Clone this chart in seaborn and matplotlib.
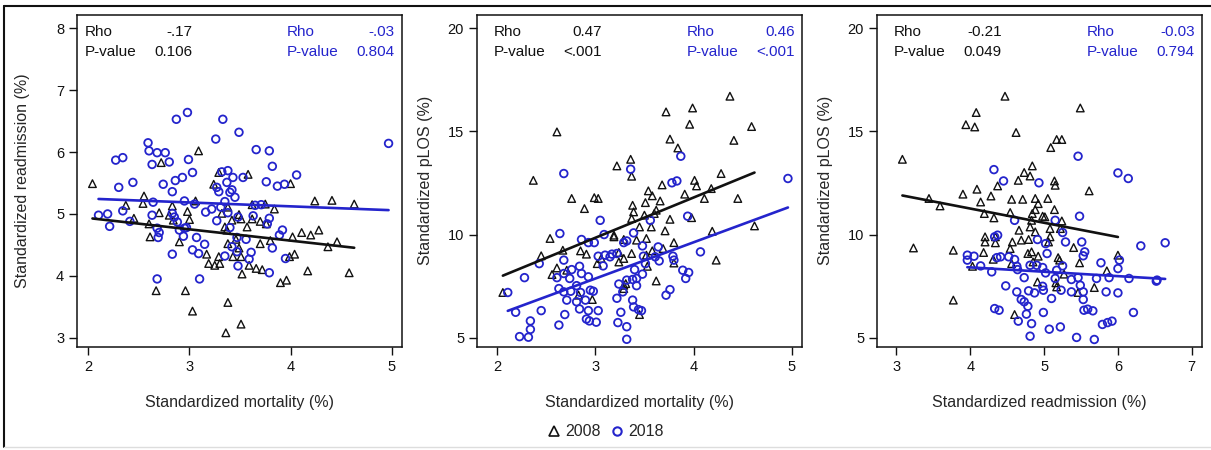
import numpy as np
import pandas as pd
import matplotlib
matplotlib.use("Agg")
import matplotlib.pyplot as plt
from matplotlib.lines import Line2D
import seaborn as sns

# ---------------- data ----------------
# Panel 1: standardized mortality (x) vs standardized readmission (y)
p1_2008 = [(2.04,5.49),(3.09,6.02),(2.72,5.83),(3.29,5.67),(3.58,5.64),(3.24,5.48),(4.00,5.49),
           (2.55,5.29),(2.54,5.17),(2.37,5.14),(2.83,5.13),(3.06,5.21),(3.38,5.11),(3.62,5.15),
           (3.75,5.16),(3.84,5.08),(4.24,5.21),(4.41,5.22),(4.63,5.16),(2.70,5.02),(2.98,5.04),
           (2.45,4.93),(2.60,4.84),(2.80,4.98),(2.84,4.90),(3.00,4.91),(3.32,5.01),(3.35,4.79),
           (3.49,4.99),(3.51,4.92),(3.62,4.92),(3.57,4.79),(3.70,4.88),(3.76,4.84),(2.61,4.63),
           (2.90,4.55),(3.38,4.52),(3.46,4.59),(3.49,4.45),(3.70,4.52),(3.80,4.57),(4.02,4.63),
           (4.11,4.70),(4.20,4.66),(4.28,4.74),(4.37,4.47),(4.46,4.55),(3.17,4.35),(3.29,4.31),
           (3.19,4.20),(3.25,4.17),(3.30,4.20),(3.43,4.31),(3.51,4.31),(3.59,4.17),(3.66,4.12),
           (3.72,4.10),(3.52,4.03),(3.99,4.31),(4.04,4.35),(4.17,4.08),(3.90,3.89),(3.96,3.93),
           (4.58,4.05),(2.67,3.76),(2.96,3.76),(3.03,3.43),(3.38,3.57),(3.51,3.22),(3.36,3.08),
           (3.37,4.74),(3.42,4.90)]
p1_2018 = [(2.98,6.64),(2.87,6.53),(3.33,6.53),(3.49,6.32),(3.26,6.21),(2.59,6.15),(2.60,6.02),
           (2.68,5.99),(2.76,5.99),(2.27,5.87),(2.34,5.91),(2.63,5.80),(2.80,5.84),(2.99,5.88),
           (3.66,6.04),(3.79,6.02),(3.82,5.77),(3.03,5.67),(2.93,5.59),(2.86,5.54),(2.74,5.48),
           (2.44,5.51),(2.30,5.43),(2.83,5.36),(3.32,5.68),(3.38,5.70),(3.43,5.59),(3.53,5.59),
           (3.37,5.51),(3.27,5.43),(3.29,5.36),(3.42,5.39),(3.40,5.35),(3.45,5.27),(3.76,5.52),
           (3.87,5.45),(3.94,5.48),(4.06,5.63),(4.97,6.14),(2.64,5.19),(2.95,5.21),(3.05,5.16),
           (3.35,5.20),(3.31,5.11),(3.22,5.08),(3.16,5.03),(3.65,5.14),(3.71,5.15),(2.34,5.05),
           (2.10,4.98),(2.19,5.00),(2.21,4.80),(2.41,4.88),(2.63,4.98),(2.68,4.77),(2.70,4.70),
           (2.69,4.62),(2.83,5.01),(2.85,4.95),(2.88,4.87),(2.90,4.74),(2.95,4.77),(2.97,4.78),
           (2.94,4.64),(3.07,4.62),(3.03,4.42),(3.09,4.36),(3.15,4.51),(3.27,4.89),(3.38,5.02),
           (3.48,4.95),(3.40,4.78),(3.47,4.62),(3.56,4.59),(3.63,4.97),(3.79,4.93),(3.77,4.84),
           (3.92,4.74),(3.89,4.66),(3.82,4.45),(3.42,4.47),(3.47,4.39),(3.35,4.32),(3.61,4.38),
           (3.59,4.27),(3.48,4.16),(3.79,4.05),(3.95,4.28),(2.83,4.35),(2.68,3.95),(3.10,3.95)]

# Panel 2: standardized mortality (x) vs standardized pLOS (y)
p2_2008 = [(4.37,16.71),(3.99,16.14),(3.72,15.95),(3.96,15.35),(4.59,15.24),(2.61,14.98),
           (3.76,14.63),(4.41,14.57),(3.84,14.20),(3.36,13.65),(3.22,13.33),(3.37,12.83),
           (4.28,12.96),(2.37,12.63),(3.68,12.41),(4.01,12.63),(4.03,12.36),(4.18,12.23),
           (3.54,12.12),(3.58,11.88),(3.91,11.96),(4.11,11.75),(4.45,11.75),(2.76,11.75),
           (2.99,11.79),(3.03,11.75),(3.66,11.63),(3.51,11.55),(2.89,11.26),(3.38,11.42),
           (3.39,11.10),(3.37,10.78),(3.50,10.94),(3.62,11.18),(3.60,11.02),(3.57,10.37),
           (3.76,10.74),(3.45,10.37),(3.98,10.82),(4.62,10.42),(4.19,10.16),(3.71,10.18),
           (2.54,9.81),(3.19,9.97),(3.19,9.89),(3.29,9.76),(3.42,9.73),(3.52,9.81),(3.80,9.61),
           (2.67,9.24),(2.85,9.21),(2.91,9.05),(2.45,8.97),(3.24,9.13),(3.37,9.08),(3.52,9.00),
           (3.58,9.21),(3.69,9.32),(3.02,8.59),(3.06,8.84),(3.24,8.67),(3.29,8.84),(3.53,8.46),
           (3.80,8.62),(4.23,8.76),(2.61,8.38),(2.56,8.06),(2.71,8.27),(3.62,7.75),(3.29,7.54),
           (3.29,7.38),(2.06,7.19),(2.83,7.06),(2.97,6.85),(3.45,6.12),(3.31,7.62)]
p2_2018 = [(3.87,13.80),(3.36,13.17),(2.68,12.96),(3.78,12.51),(3.83,12.60),(4.96,12.72),
           (3.05,10.69),(3.56,10.69),(3.94,10.89),(2.64,10.05),(3.09,10.00),(3.39,10.08),
           (2.86,9.76),(2.93,9.61),(2.99,9.61),(3.29,9.61),(3.32,9.69),(3.48,9.45),(3.64,9.40),
           (4.07,9.16),(2.43,8.59),(2.68,8.76),(3.03,8.95),(3.10,9.00),(3.15,8.92),(3.08,8.48),
           (3.22,9.08),(3.17,9.05),(3.49,8.95),(3.51,8.59),(3.61,8.92),(3.65,8.72),(3.79,8.95),
           (3.80,8.76),(2.61,7.91),(2.68,8.11),(2.74,7.87),(2.76,8.30),(2.84,8.46),(2.86,8.11),
           (2.93,7.95),(2.28,7.91),(3.40,8.30),(3.38,7.82),(3.42,7.87),(3.48,8.08),(3.32,7.79),
           (3.24,7.60),(3.42,7.52),(3.89,8.27),(3.95,8.16),(3.92,7.87),(2.11,7.19),(2.63,7.38),
           (2.68,7.22),(2.75,7.25),(2.81,7.52),(2.85,7.19),(2.95,7.30),(2.98,7.25),(2.71,6.82),
           (2.90,6.82),(2.84,6.39),(3.03,6.31),(2.93,6.31),(3.22,6.91),(3.28,7.22),(3.38,6.82),
           (3.39,6.49),(3.44,6.36),(3.47,6.31),(3.26,6.23),(3.76,7.33),(3.72,7.06),(2.19,6.23),
           (2.45,6.31),(2.69,6.12),(2.34,5.81),(2.34,5.40),(2.63,5.61),(2.23,5.05),(2.32,5.02),
           (2.91,5.90),(2.94,5.81),(3.01,5.75),(3.23,5.73),(3.32,5.53),(3.32,4.92),(2.81,6.74)]

# Panel 3: standardized readmission (x) vs standardized pLOS (y)
p3_2008 = [(4.47,16.71),(5.49,16.14),(4.08,15.92),(3.94,15.33),(4.06,15.22),(4.62,14.95),
           (5.17,14.61),(5.24,14.61),(5.09,14.22),(3.08,13.65),(4.84,13.33),(4.73,13.01),
           (4.81,12.84),(4.65,12.63),(5.14,12.60),(5.15,12.39),(4.37,12.36),(4.09,12.20),
           (5.61,12.12),(3.90,11.96),(4.28,11.87),(3.44,11.75),(4.56,11.71),(4.71,11.71),
           (4.88,11.75),(5.05,11.75),(4.14,11.58),(3.59,11.39),(4.92,11.50),(4.88,11.21),
           (4.84,11.02),(5.14,11.21),(4.19,11.02),(4.32,10.81),(4.54,11.07),(4.98,10.89),
           (5.01,10.86),(4.83,10.69),(5.24,10.66),(5.08,10.29),(5.22,10.29),(4.66,10.21),
           (4.81,10.37),(4.88,10.13),(5.08,9.89),(4.20,9.89),(4.20,9.64),(4.34,9.89),(4.34,9.60),
           (4.57,9.64),(4.69,9.73),(4.79,9.76),(5.06,9.64),(4.54,9.32),(4.78,9.08),(4.83,9.16),
           (4.92,8.95),(5.40,9.37),(6.00,9.00),(3.23,9.35),(3.77,9.24),(4.18,9.13),(4.31,8.80),
           (4.56,8.59),(4.85,8.67),(5.19,8.88),(5.21,8.76),(5.48,8.63),(4.03,8.46),(5.27,8.08),
           (5.85,8.24),(4.91,7.70),(5.16,7.66),(5.17,7.46),(5.68,7.43),(5.46,7.19),(3.77,6.82),
           (4.60,6.12)]
p3_2018 = [(5.46,13.80),(4.32,13.15),(4.45,12.60),(4.93,12.51),(6.00,12.99),(6.14,12.72),
           (5.48,10.89),(4.60,10.69),(5.15,10.69),(4.37,9.97),(4.33,9.89),(4.91,9.76),(5.02,9.56),
           (5.25,10.10),(5.29,9.64),(5.51,9.64),(5.55,9.16),(5.53,8.97),(6.31,9.45),(6.64,9.60),
           (5.04,9.08),(3.96,9.00),(4.05,8.95),(3.96,8.76),(4.36,8.88),(4.41,8.92),(4.52,8.92),
           (4.14,8.48),(4.29,8.19),(4.63,8.46),(4.64,8.30),(4.73,7.91),(4.90,8.51),(4.98,8.40),
           (5.02,8.14),(5.15,7.87),(5.17,8.27),(5.25,8.48),(5.37,7.82),(5.46,7.91),(5.49,7.54),
           (5.71,7.87),(5.77,8.63),(5.88,7.91),(6.00,8.35),(6.02,8.76),(6.15,7.87),(6.52,7.74),
           (6.00,7.17),(5.84,7.22),(5.53,7.22),(5.37,7.22),(5.23,7.30),(5.10,6.90),(4.99,7.30),
           (4.87,7.17),(4.79,7.27),(4.63,7.22),(4.48,7.51),(4.98,7.49),(4.69,6.85),(4.73,6.74),
           (4.78,6.52),(5.53,6.85),(5.54,6.33),(5.59,6.38),(5.66,6.30),(4.33,6.41),(4.39,6.33),
           (4.99,6.22),(4.76,6.14),(4.65,5.80),(4.83,5.68),(5.07,5.41),(5.22,5.52),(4.81,5.07),
           (5.44,5.01),(5.68,4.91),(5.79,5.64),(5.86,5.73),(5.92,5.80),(6.21,6.22),(6.53,7.79),
           (4.81,8.51),(4.60,8.79)]

years = ["2008", "2018"]
x_labels = ["Standardized mortality (%)", "Standardized mortality (%)", "Standardized readmission (%)"]
y_labels = ["Standardized readmission (%)", "Standardized pLOS (%)", "Standardized pLOS (%)"]
rho_2008 = ["-.17", "0.47", "-0.21"]
pval_2008 = ["0.106", "<.001", "0.049"]
rho_2018 = ["-.03", "0.46", "-0.03"]
pval_2018 = ["0.804", "<.001", "0.794"]
x_ticks = [[2, 3, 4, 5], [2, 3, 4, 5], [3, 4, 5, 6, 7]]
y_ticks = [[3, 4, 5, 6, 7, 8], [5, 10, 15, 20], [5, 10, 15, 20]]

# ---------------- style ----------------
sns.set_style("ticks")
plt.rcParams["font.family"] = ["Liberation Sans", "DejaVu Sans"]
BLACK = "#111111"
BLUE = "#2424cc"

fig = plt.figure(figsize=(12.11, 4.5), dpi=100)
W, H = 1211.0, 450.0
ax_lefts = [77.3, 477.3, 877.3]
ax_w, ax_top, ax_bot = 324.4, 15.0, 346.7
xlims = [(1.89, 5.10), (1.80, 5.10), (2.74, 7.135)]
ylims = [(2.855, 8.215), (4.56, 20.65), (4.56, 20.65)]
txt_left = [0.024, 0.051, 0.051]
txt_val = [0.356, 0.383, 0.383]
ylab_x = [-0.170, -0.161, -0.161]

panels = [(p1_2008, p1_2018), (p2_2008, p2_2018), (p3_2008, p3_2018)]

for i, (d08, d18) in enumerate(panels):
    ax = fig.add_axes([ax_lefts[i] / W, 1 - ax_bot / H, ax_w / W, (ax_bot - ax_top) / H])
    df08 = pd.DataFrame(d08, columns=["x", "y"])
    df18 = pd.DataFrame(d18, columns=["x", "y"])
    sns.scatterplot(data=df08, x="x", y="y", ax=ax, marker="^", s=30, color=BLACK,
                    facecolors="none", edgecolor=BLACK, linewidth=1.0, zorder=3)
    sns.scatterplot(data=df18, x="x", y="y", ax=ax, marker="o", s=30, color=BLUE,
                    facecolors="none", edgecolor=BLUE, linewidth=1.3, zorder=3)
    sns.regplot(data=df08, x="x", y="y", ax=ax, scatter=False, ci=None, truncate=True,
                color=BLACK, line_kws={"lw": 1.9, "zorder": 4})
    sns.regplot(data=df18, x="x", y="y", ax=ax, scatter=False, ci=None, truncate=True,
                color=BLUE, line_kws={"lw": 1.9, "zorder": 4})
    ax.set_xlim(*xlims[i])
    ax.set_ylim(*ylims[i])
    ax.set_xticks(x_ticks[i])
    ax.set_yticks(y_ticks[i])
    ax.tick_params(direction="out", length=5.5, width=1.0, labelsize=10.5, pad=4, colors=BLACK)
    for sp in ax.spines.values():
        sp.set_visible(True)
        sp.set_linewidth(1.1)
        sp.set_color(BLACK)
    ax.set_xlabel(x_labels[i], fontsize=11.5, va="center")
    ax.set_ylabel(y_labels[i], fontsize=11.5, va="center")
    ax.xaxis.set_label_coords(0.5, (ax_bot - 403) / (ax_bot - ax_top))
    ax.yaxis.set_label_coords(ylab_x[i], 0.5)

    fs = 11
    ax.text(txt_left[i], 0.950, "Rho", transform=ax.transAxes, ha="left", va="center", fontsize=fs, color=BLACK)
    ax.text(txt_left[i], 0.889, "P-value", transform=ax.transAxes, ha="left", va="center", fontsize=fs, color=BLACK)
    ax.text(txt_val[i], 0.950, rho_2008[i], transform=ax.transAxes, ha="right", va="center", fontsize=fs, color=BLACK)
    ax.text(txt_val[i], 0.889, pval_2008[i], transform=ax.transAxes, ha="right", va="center", fontsize=fs, color=BLACK)
    ax.text(0.646, 0.950, "Rho", transform=ax.transAxes, ha="left", va="center", fontsize=fs, color=BLUE)
    ax.text(0.646, 0.889, "P-value", transform=ax.transAxes, ha="left", va="center", fontsize=fs, color=BLUE)
    ax.text(0.978, 0.950, rho_2018[i], transform=ax.transAxes, ha="right", va="center", fontsize=fs, color=BLUE)
    ax.text(0.978, 0.889, pval_2018[i], transform=ax.transAxes, ha="right", va="center", fontsize=fs, color=BLUE)

handles = [Line2D([], [], ls="none", marker="^", markersize=7, markerfacecolor="none",
                  markeredgecolor=BLACK, markeredgewidth=1.2),
           Line2D([], [], ls="none", marker="o", markersize=6, markerfacecolor="none",
                  markeredgecolor=BLUE, markeredgewidth=1.5)]
fig.legend(handles, years, loc="center", bbox_to_anchor=(0.5, 1 - 432 / H), ncol=2,
           frameon=False, fontsize=11.5, handlelength=0.8, handletextpad=0.3, columnspacing=0.6)

# outer frame
fig.add_artist(Line2D([4 / W, 4 / W], [3 / H, 1 - 6 / H], transform=fig.transFigure, color=BLACK, lw=1.5))
fig.add_artist(Line2D([4 / W, 1.0], [1 - 6 / H, 1 - 6 / H], transform=fig.transFigure, color=BLACK, lw=1.5))
fig.add_artist(Line2D([4 / W, 1.0], [3 / H, 3 / H], transform=fig.transFigure, color="#dddddd", lw=1.0))

fig.savefig("out.png", dpi=100)
